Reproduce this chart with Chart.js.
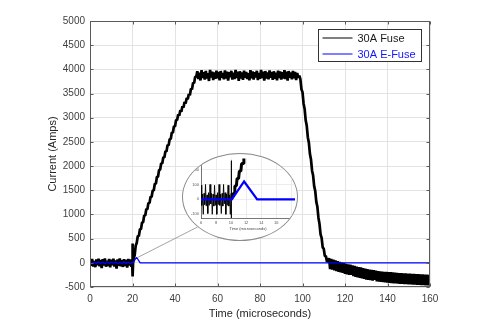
<!DOCTYPE html>
<html><head><meta charset="utf-8">
<script src="https://cdn.jsdelivr.net/npm/chart.js@4.4.1/dist/chart.umd.min.js"></script>
<style>
html,body{margin:0;padding:0;background:#fff;}
#wrap{position:relative;width:485px;height:329px;overflow:hidden;}
#main{position:absolute;left:0;top:0;}
#inset{position:absolute;left:182px;top:153px;width:116px;height:88px;box-sizing:border-box;border:1px solid #8c8c8c;border-radius:50%;overflow:hidden;background:#fff;}
#insetCanvas{position:absolute;left:0;top:0;}
</style></head>
<body><div id="wrap"><canvas id="main" width="485" height="329"></canvas><div id="inset"><canvas id="insetCanvas" width="114" height="86"></canvas></div></div>
<script>
// ---------------- data ----------------
const seriesLabels = ['30A Fuse', '30A E-Fuse'];
const timeTicks = [0, 20, 40, 60, 80, 100, 120, 140, 160];
const currentTicks = [-500, 0, 500, 1000, 1500, 2000, 2500, 3000, 3500, 4000, 4500, 5000];

// 30A Fuse, sampled every 0.5 us in each segment
const fuseBaseline = [55,-60,80,-75,40,-90,70,-50,85,-70,60,-110,75,-55,90,-80,45,-65,80,-95,65,-50,85,-75,50,-120,70,-60,90,-70,55,-85,75,-65,60,-100,80,-55,70,-80]; // from 0
const fuseSpikeTime = [19.8, 20.0, 20.1, 20.3];
const fuseSpikeAmps = [60, 400, -280, 30];
const fuseRise = [88,150,353,415,555,556,696,697,837,838,978,978,1112,1106,1240,1234,1368,1362,1497,1494,1635,1636,1778,1779,1921,1922,2060,2053,2185,2178,2310,2303,2435,2428,2561,2557,2693,2689,2824,2820,2956,2952,3069,3041,3154,3126,3238,3211,3323,3296,3408,3380,3493,3465,3598,3590,3723,3715,3850,3845]; // from 20.5
const fusePlateau = [3960,3800,3930,3770,3985,3820,3940,3790,3970,3810,3920,3760,3990,3830,3950,3780,3935,3805,3975,3815,
 3945,3775,3965,3825,3925,3795,3980,3810,3955,3770,3940,3835,3970,3790,3930,3800,3990,3820,3950,3765,
 3960,3810,3935,3785,3975,3825,3945,3800,3920,3775,3985,3815,3955,3790,3940,3830,3970,3780,3925,3805,
 3990,3820,3950,3770,3965,3810,3935,3795,3980,3825,3945,3785,3960,3805,3930,3775,3975,3820,3955,3790,
 3940,3810,3985,3800,3950,3770,3965,3825,3935,3795,3970,3815,3945,3780,3925,3830]; // from 50.5
const fuseFall = [3870,3800,3590,3530,3296,3181,2947,2832,2598,2483,2249,2135,1905,1804,1583,1482,1260,1159,932,805,589,514,320,290,140,140,20,50]; // from 98.5
const fuseTail = [95,-130,80,-140,65,-155,50,-170,35,-185,
 20,-195,5,-210,-5,-230,-20,-240,-30,-250,
 -40,-250,-55,-275,-65,-290,-80,-300,-90,-310,
 -95,-320,-110,-330,-120,-345,-130,-350,-140,-360,
 -145,-370,-150,-350,-160,-385,-170,-390,-175,-395,
 -180,-400,-185,-405,-190,-410,-195,-415,-195,-420,
 -200,-425,-205,-425,-210,-430,-215,-435,-215,-435,
 -220,-440,-220,-440,-225,-445,-225,-445,-230,-450,
 -230,-450,-235,-455,-235,-455,-240,-460,-240,-460,
 -245,-465,-245,-465,-250,-470]; // from 112.5

// 30A E-Fuse
const efuseTime = [0,1,2,3,4,5,6,7,8,9,10,11,12,13,14,15,16,17,18,19,20,20.3,21.9,23.6,160];
const efuseAmps = [12,-18,15,-12,20,-15,10,-20,16,-14,18,-10,14,-18,12,-16,20,-12,15,-18,10,5,115,0,0];

// inset (zoomed scope view)
const insetTimeTicks = [6, 8, 10, 12, 14, 16, 18];
const insetCurrentTicks = [-100, 0, 100, 200];
const insetFuseNoise = [95,-40,35,-100,40,-35,100,-45,30,-95,45,-40,100,-30,40,-100,35,-45,95,-40,30,-100,45,-35,100,-40,35,-95,40,-45,100,-30,45,-100,35,-40,95,-45,30,-100,40]; // from 6, every 0.1
const insetSpikeTime = [10.02, 10.04, 10.06];
const insetSpikeAmps = [260, -125, 0];
const insetRiseTime = [10.06,10.3,10.4,10.5,10.7,10.8,11.0,11.1,11.3,11.4,11.6,11.7];
const insetRiseAmps = [0,40,40,90,90,140,140,190,190,240,240,290];
const insetEfuseTime = [6, 10.1, 11.73, 13.47, 18.5];
const insetEfuseAmps = [0, 0, 120, 0, 0];

// ---------------- helpers ----------------
function times(start, step, n){ const a=[]; for(let i=0;i<n;i++) a.push(+(start+i*step).toFixed(3)); return a; }
function pts(ts, vs){ return ts.map((t,i)=>({x:t, y:vs[i]})); }

const fuseTime = [].concat(times(0,0.5,fuseBaseline.length), fuseSpikeTime, times(20.5,0.5,fuseRise.length),
  times(50.5,0.5,fusePlateau.length), times(98.5,0.5,fuseFall.length), times(112.5,0.5,fuseTail.length));
const fuseAmps = [].concat(fuseBaseline, fuseSpikeAmps, fuseRise, fusePlateau, fuseFall, fuseTail);

Chart.defaults.font.family = "'Liberation Sans', Arial, sans-serif";

const frame = {
  id: 'frame',
  afterDatasetsDraw(chart){
    const {ctx, chartArea:a, scales:{x, y}} = chart;
    ctx.save();
    ctx.strokeStyle = '#5a5a5a'; ctx.lineWidth = 1;
    const L = Math.round(a.left)+0.5, R = Math.round(a.right)-0.5, T = Math.round(a.top)+0.5, B = Math.round(a.bottom)-0.5;
    ctx.strokeRect(L, T, R-L, B-T);
    ctx.beginPath();
    timeTicks.forEach(v=>{ const p=Math.round(x.getPixelForValue(v))+0.5; ctx.moveTo(p,B); ctx.lineTo(p,B-3); ctx.moveTo(p,T); ctx.lineTo(p,T+3); });
    currentTicks.forEach(v=>{ const p=Math.round(y.getPixelForValue(v))+0.5; ctx.moveTo(L,p); ctx.lineTo(L+3,p); ctx.moveTo(R,p); ctx.lineTo(R-3,p); });
    ctx.stroke();
    ctx.restore();
  },
  afterDraw(chart){
    const {ctx, chartArea:a, scales:{x, y}} = chart;
    ctx.save();
    // connector from the trace to the magnifier
    const el = document.getElementById('inset');
    const cx = el.offsetLeft + el.offsetWidth/2, cy = el.offsetTop + el.offsetHeight/2;
    const rx = el.offsetWidth/2, ry = el.offsetHeight/2, th = 137*Math.PI/180;
    ctx.strokeStyle = '#8c8c8c'; ctx.lineWidth = 0.8;
    ctx.beginPath();
    ctx.moveTo(x.getPixelForValue(22.4), y.getPixelForValue(110));
    ctx.lineTo(cx + rx*Math.cos(th), cy + ry*Math.sin(th));
    ctx.stroke();
    // legend
    const w = 103, h = 32, x0 = Math.round(a.right) - 9 - w + 0.5, y0 = Math.round(a.top) + 8 + 0.5;
    ctx.fillStyle = '#fff'; ctx.fillRect(x0, y0, w, h);
    ctx.strokeStyle = '#333'; ctx.lineWidth = 1; ctx.strokeRect(x0, y0, w, h);
    ctx.font = "11px 'Liberation Sans', Arial, sans-serif";
    ctx.textBaseline = 'middle'; ctx.textAlign = 'left';
    chart.data.datasets.forEach((ds, i)=>{
      const yy = y0 + 8.5 + i*16;
      ctx.strokeStyle = ds.borderColor; ctx.lineWidth = 1;
      ctx.beginPath(); ctx.moveTo(x0+4, yy); ctx.lineTo(x0+34, yy); ctx.stroke();
      ctx.fillStyle = ds.legendColor; ctx.fillText(ds.label, x0+39, yy+0.5);
    });
    ctx.restore();
  }
};

const plain = v => String(v);

new Chart(document.getElementById('main'), {
  type: 'line',
  data: { datasets: [
    { label: seriesLabels[0], data: pts(fuseTime, fuseAmps), borderColor: '#000', legendColor: '#1a1a1a', borderWidth: 2.7, borderJoinStyle: 'bevel', pointRadius: 0, tension: 0, order: 2 },
    { label: seriesLabels[1], data: pts(efuseTime, efuseAmps), borderColor: '#0000ff', legendColor: '#1414ff', borderWidth: 1.3, borderJoinStyle: 'bevel', pointRadius: 0, tension: 0, order: 1 }
  ]},
  options: {
    responsive: false, animation: false, events: [],
    layout: { padding: { left: 40, top: 21, right: 55, bottom: 0 } },
    plugins: { legend: { display: false }, tooltip: { enabled: false } },
    scales: {
      x: { type: 'linear', min: 0, max: 160,
        afterBuildTicks: ax => { ax.ticks = timeTicks.map(v=>({value:v})); },
        ticks: { font: { size: 10 }, color: '#404040', padding: 6, maxRotation: 0, autoSkip: false, callback: plain },
        grid: { color: '#e3e3e3', drawTicks: false }, border: { display: false },
        title: { display: true, text: 'Time (microseconds)', font: { size: 11 }, color: '#262626', padding: { top: 0, bottom: 8 } },
        afterFit: s => { s.height = 42; } },
      y: { min: -500, max: 5000,
        afterBuildTicks: ax => { ax.ticks = currentTicks.map(v=>({value:v})); },
        ticks: { font: { size: 10 }, color: '#404040', padding: 5, callback: plain },
        grid: { color: '#e3e3e3', drawTicks: false }, border: { display: false },
        title: { display: true, text: 'Current (Amps)', font: { size: 11 }, color: '#262626', padding: { top: 6, bottom: 0 } },
        afterFit: s => { s.width = 50; } }
    }
  },
  plugins: [frame]
});

new Chart(document.getElementById('insetCanvas'), {
  type: 'line',
  data: { datasets: [
    { data: pts(insetEfuseTime, insetEfuseAmps), borderColor: '#0000ff', borderWidth: 2.2, pointRadius: 0, tension: 0, order: 1 },
    { data: pts(times(6,0.1,insetFuseNoise.length).concat(insetSpikeTime), insetFuseNoise.concat(insetSpikeAmps)), borderColor: '#000', borderWidth: 0.9, borderJoinStyle: 'bevel', pointRadius: 0, tension: 0, order: 2 },
    { data: pts(insetRiseTime, insetRiseAmps), borderColor: '#000', borderWidth: 3, borderJoinStyle: 'bevel', pointRadius: 0, tension: 0, order: 3 }
  ]},
  options: {
    responsive: false, animation: false, events: [],
    layout: { padding: { left: 0, top: 0, right: 2, bottom: 0 } },
    plugins: { legend: { display: false }, tooltip: { enabled: false } },
    scales: {
      x: { type: 'linear', min: 6, max: 18.5,
        afterBuildTicks: ax => { ax.ticks = insetTimeTicks.map(v=>({value:v})); },
        ticks: { font: { size: 4 }, color: '#555', padding: 2, maxRotation: 0, autoSkip: false },
        grid: { color: '#ececec', drawTicks: false }, border: { color: '#555', width: 0.8 },
        title: { display: true, text: 'Time (microseconds)', font: { size: 4 }, color: '#444', padding: { top: 0, bottom: 9 } },
        afterFit: s => { s.height = 22; } },
      y: { min: -125, max: 275,
        afterBuildTicks: ax => { ax.ticks = insetCurrentTicks.map(v=>({value:v})); },
        ticks: { font: { size: 4 }, color: '#555', padding: 2 },
        grid: { color: '#ececec', drawTicks: false }, border: { color: '#555', width: 0.8 },
        afterFit: s => { s.width = 18; } }
    }
  }
});
</script>
</body></html>
